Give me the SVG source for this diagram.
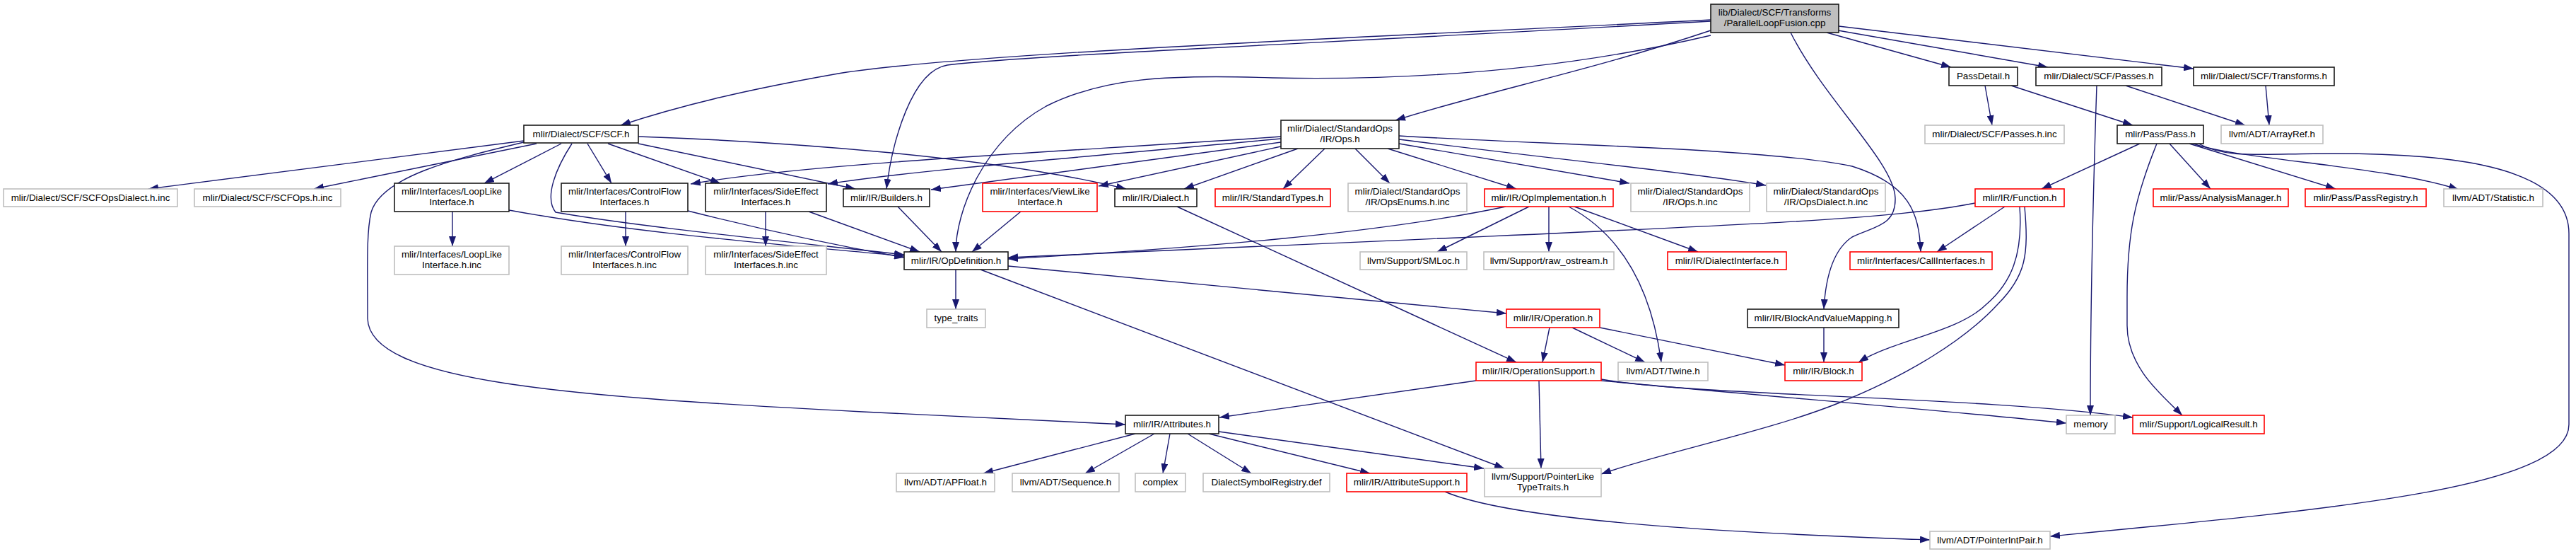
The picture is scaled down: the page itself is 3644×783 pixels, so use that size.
<svg xmlns="http://www.w3.org/2000/svg" width="3644" height="783" viewBox="0 0 3644 783">
<style>
rect{stroke-width:1.6}
.b{fill:#fff;stroke:#1a1a1a}
.r{fill:#fff;stroke:#ff0000}
.g{fill:#fff;stroke:#bfbfbf}
.root{fill:#bfbfbf;stroke:#1a1a1a}
text{font-family:"Liberation Sans",Arial,sans-serif;font-size:13.4px;fill:#000;text-anchor:middle}
#edges path{fill:none;stroke:#191970;stroke-width:1.4;marker-end:url(#ah)}
</style>
<defs>
<marker id="ah" markerUnits="userSpaceOnUse" viewBox="0 0 14 10" markerWidth="14" markerHeight="10" refX="14" refY="5" orient="auto">
<path d="M0,0 L14,5 L0,10 z" fill="#191970"/>
</marker>
</defs>
<rect width="3644" height="783" fill="#fff"/>
<g id="edges">
<path d="M2420,28 C2000,50 1350,75 1180,105 C1050,128 960,150 878,177"/>
<path d="M2420,30 C1900,60 1450,78 1340,92 C1290,100 1262,200 1254,267"/>
<path d="M2420,43 C2250,100 2100,130 1974,170"/>
<path d="M2420,50 C2250,90 2050,115 1800,110 C1650,105 1560,110 1480,150 C1390,200 1352,300 1352,356"/>
<path d="M2533,46 C2580,140 2680,230 2681,280 C2682,320 2650,320 2620,335 C2590,355 2582,400 2580,437"/>
<path d="M2584,46 L2760,95"/>
<path d="M2600,43 L2897,95"/>
<path d="M2601,37 L3103,97"/>
<path d="M2808,121 L2818,177"/>
<path d="M2845,121 L3017,177"/>
<path d="M3007,121 L3176,177"/>
<path d="M2966,121 C2960,300 2957,450 2957,587"/>
<path d="M3205,121 L3210,177"/>
<path d="M3027,203 L2888,267"/>
<path d="M3069,203 L3127,267"/>
<path d="M3097,203 L3304,267"/>
<path d="M3103,203 C3160,225 3380,235 3478,268"/>
<path d="M3110,203 C3150,225 3200,217 3300,217 C3450,217 3634,230 3634,330 L3634,600 C3634,690 3300,720 2900,758"/>
<path d="M3051,203 C3020,280 3009,330 3009,420 L3009,460 C3009,520 3060,560 3087,587"/>
<path d="M2836,292 L2740,356"/>
<path d="M2857,292 C2862,360 2845,400 2810,430 C2770,470 2680,480 2629,512"/>
<path d="M2864,292 C2870,360 2866,390 2826,430 C2780,480 2700,530 2600,570 C2500,610 2350,640 2265,670"/>
<path d="M2794,287 C2650,315 2400,320 1426,364"/>
<path d="M1812,193 C1500,215 1150,230 977,260"/>
<path d="M1812,196 C1500,225 1300,240 1171,260"/>
<path d="M1812,201 L1317,268"/>
<path d="M1812,207 L1554,263"/>
<path d="M1836,210 L1675,267"/>
<path d="M1874,210 L1815,267"/>
<path d="M1917,210 L1966,259"/>
<path d="M1963,210 L2145,267"/>
<path d="M1979,203 L2305,259"/>
<path d="M1979,197 C2200,225 2400,245 2498,262"/>
<path d="M1979,192 C2200,205 2500,210 2620,235 C2700,260 2715,300 2717,356"/>
<path d="M741,199 L210,267"/>
<path d="M759,203 L444,267"/>
<path d="M794,203 L685,259"/>
<path d="M831,203 L865,259"/>
<path d="M860,203 L1019,259"/>
<path d="M903,203 L1210,267"/>
<path d="M903,193 C1100,200 1400,220 1593,267"/>
<path d="M809,203 C785,240 770,280 786,300 C900,320 1100,340 1279,360"/>
<path d="M741,201 C640,225 540,250 525,300 C518,330 520,380 520,450 C522,540 800,560 1220,582 L1592,600"/>
<path d="M640,299 L640,348"/>
<path d="M720,297 C900,330 1100,345 1279,362"/>
<path d="M885,299 L885,348"/>
<path d="M973,298 C1100,330 1200,350 1279,364"/>
<path d="M1083,299 L1083,348"/>
<path d="M1144,299 L1301,356"/>
<path d="M1270,292 L1332,356"/>
<path d="M1444,299 L1375,356"/>
<path d="M1665,292 L2145,512"/>
<path d="M2130,292 C1950,330 1700,350 1426,366"/>
<path d="M2163,292 L2033,356"/>
<path d="M2191,292 L2191,356"/>
<path d="M2227,292 L2402,356"/>
<path d="M2219,292 C2290,330 2335,400 2350,512"/>
<path d="M1352,381 L1352,437"/>
<path d="M1426,376 L2131,443"/>
<path d="M1387,381 L2128,662"/>
<path d="M2192,463 L2182,512"/>
<path d="M2224,463 L2327,512"/>
<path d="M2263,463 L2525,516"/>
<path d="M2088,538 L1725,590"/>
<path d="M2177,538 L2180,662"/>
<path d="M2265,538 C2500,560 2750,580 2923,598"/>
<path d="M2265,536 C2400,560 2800,560 3017,590"/>
<path d="M1606,613 L1391,669"/>
<path d="M1633,613 L1535,669"/>
<path d="M1655,613 L1645,669"/>
<path d="M1680,613 L1770,669"/>
<path d="M1710,613 L1938,669"/>
<path d="M1724,610 L2099,662"/>
<path d="M2044,695 C2150,740 2500,755 2730,763"/>
<path d="M2580,463 L2580,512"/>
</g>
<g id="n_root"><rect class="root" x="2420" y="6" width="181" height="40"/><text x="2510.5" y="22">lib/Dialect/SCF/Transforms</text><text x="2510.5" y="37">/ParallelLoopFusion.cpp</text></g>
<g id="n_scf"><rect class="b" x="741" y="177" width="162" height="25"/><text x="822" y="193.5">mlir/Dialect/SCF/SCF.h</text></g>
<g id="n_stdops"><rect class="b" x="1812" y="170" width="167" height="40"/><text x="1895.5" y="186">mlir/Dialect/StandardOps</text><text x="1895.5" y="201">/IR/Ops.h</text></g>
<g id="n_passdetail"><rect class="b" x="2757" y="95" width="97" height="26"/><text x="2805.5" y="112">PassDetail.h</text></g>
<g id="n_scfpasses"><rect class="b" x="2880" y="95" width="178" height="26"/><text x="2969" y="112">mlir/Dialect/SCF/Passes.h</text></g>
<g id="n_scftransforms"><rect class="b" x="3103" y="95" width="199" height="26"/><text x="3202.5" y="112">mlir/Dialect/SCF/Transforms.h</text></g>
<g id="n_passesinc"><rect class="g" x="2723" y="177" width="197" height="26"/><text x="2821.5" y="194">mlir/Dialect/SCF/Passes.h.inc</text></g>
<g id="n_pass"><rect class="b" x="2995" y="177" width="122" height="26"/><text x="3056" y="194">mlir/Pass/Pass.h</text></g>
<g id="n_arrayref"><rect class="g" x="3142" y="177" width="144" height="26"/><text x="3214" y="194">llvm/ADT/ArrayRef.h</text></g>
<g id="n_scfopsdialect"><rect class="g" x="5" y="267" width="246" height="25"/><text x="128" y="283.5">mlir/Dialect/SCF/SCFOpsDialect.h.inc</text></g>
<g id="n_scfops"><rect class="g" x="275" y="267" width="207" height="25"/><text x="378.5" y="283.5">mlir/Dialect/SCF/SCFOps.h.inc</text></g>
<g id="n_looplike"><rect class="b" x="558" y="259" width="162" height="40"/><text x="639" y="275">mlir/Interfaces/LoopLike</text><text x="639" y="290">Interface.h</text></g>
<g id="n_controlflow"><rect class="b" x="794" y="259" width="179" height="40"/><text x="883.5" y="275">mlir/Interfaces/ControlFlow</text><text x="883.5" y="290">Interfaces.h</text></g>
<g id="n_sideeffect"><rect class="b" x="998" y="259" width="171" height="40"/><text x="1083.5" y="275">mlir/Interfaces/SideEffect</text><text x="1083.5" y="290">Interfaces.h</text></g>
<g id="n_builders"><rect class="b" x="1193" y="267" width="122" height="25"/><text x="1254" y="283.5">mlir/IR/Builders.h</text></g>
<g id="n_viewlike"><rect class="r" x="1390" y="259" width="162" height="40"/><text x="1471" y="275">mlir/Interfaces/ViewLike</text><text x="1471" y="290">Interface.h</text></g>
<g id="n_dialect"><rect class="b" x="1577" y="267" width="116" height="25"/><text x="1635" y="283.5">mlir/IR/Dialect.h</text></g>
<g id="n_stdtypes"><rect class="r" x="1719" y="267" width="163" height="25"/><text x="1800.5" y="283.5">mlir/IR/StandardTypes.h</text></g>
<g id="n_opsenums"><rect class="g" x="1907" y="259" width="168" height="40"/><text x="1991" y="275">mlir/Dialect/StandardOps</text><text x="1991" y="290">/IR/OpsEnums.h.inc</text></g>
<g id="n_opimpl"><rect class="r" x="2100" y="267" width="182" height="25"/><text x="2191" y="283.5">mlir/IR/OpImplementation.h</text></g>
<g id="n_opsinc"><rect class="g" x="2307" y="259" width="168" height="40"/><text x="2391" y="275">mlir/Dialect/StandardOps</text><text x="2391" y="290">/IR/Ops.h.inc</text></g>
<g id="n_opsdialectinc"><rect class="g" x="2499" y="259" width="168" height="40"/><text x="2583" y="275">mlir/Dialect/StandardOps</text><text x="2583" y="290">/IR/OpsDialect.h.inc</text></g>
<g id="n_function"><rect class="r" x="2794" y="267" width="126" height="25"/><text x="2857" y="283.5">mlir/IR/Function.h</text></g>
<g id="n_analysis"><rect class="r" x="3046" y="267" width="191" height="25"/><text x="3141.5" y="283.5">mlir/Pass/AnalysisManager.h</text></g>
<g id="n_passregistry"><rect class="r" x="3261" y="267" width="171" height="25"/><text x="3346.5" y="283.5">mlir/Pass/PassRegistry.h</text></g>
<g id="n_statistic"><rect class="g" x="3457" y="267" width="140" height="25"/><text x="3527" y="283.5">llvm/ADT/Statistic.h</text></g>
<g id="n_looplikeinc"><rect class="g" x="558" y="348" width="162" height="40"/><text x="639" y="364">mlir/Interfaces/LoopLike</text><text x="639" y="379">Interface.h.inc</text></g>
<g id="n_controlflowinc"><rect class="g" x="794" y="348" width="179" height="40"/><text x="883.5" y="364">mlir/Interfaces/ControlFlow</text><text x="883.5" y="379">Interfaces.h.inc</text></g>
<g id="n_sideeffectinc"><rect class="g" x="998" y="348" width="171" height="40"/><text x="1083.5" y="364">mlir/Interfaces/SideEffect</text><text x="1083.5" y="379">Interfaces.h.inc</text></g>
<g id="n_opdef"><rect class="b" x="1279" y="356" width="147" height="25"/><text x="1352.5" y="372.5">mlir/IR/OpDefinition.h</text></g>
<g id="n_smloc"><rect class="g" x="1924" y="356" width="151" height="25"/><text x="1999.5" y="372.5">llvm/Support/SMLoc.h</text></g>
<g id="n_rawostream"><rect class="g" x="2099" y="356" width="184" height="25"/><text x="2191" y="372.5">llvm/Support/raw_ostream.h</text></g>
<g id="n_dialectinterface"><rect class="r" x="2359" y="356" width="168" height="25"/><text x="2443" y="372.5">mlir/IR/DialectInterface.h</text></g>
<g id="n_callinterfaces"><rect class="r" x="2617" y="356" width="201" height="25"/><text x="2717.5" y="372.5">mlir/Interfaces/CallInterfaces.h</text></g>
<g id="n_typetraits"><rect class="g" x="1311" y="437" width="83" height="26"/><text x="1352.5" y="454">type_traits</text></g>
<g id="n_operation"><rect class="r" x="2131" y="437" width="132" height="26"/><text x="2197" y="454">mlir/IR/Operation.h</text></g>
<g id="n_bvm"><rect class="b" x="2472" y="437" width="214" height="26"/><text x="2579" y="454">mlir/IR/BlockAndValueMapping.h</text></g>
<g id="n_opsupport"><rect class="r" x="2088" y="512" width="177" height="26"/><text x="2176.5" y="529">mlir/IR/OperationSupport.h</text></g>
<g id="n_twine"><rect class="g" x="2289" y="512" width="127" height="26"/><text x="2352.5" y="529">llvm/ADT/Twine.h</text></g>
<g id="n_block"><rect class="r" x="2525" y="512" width="109" height="26"/><text x="2579.5" y="529">mlir/IR/Block.h</text></g>
<g id="n_attributes"><rect class="b" x="1592" y="587" width="132" height="26"/><text x="1658" y="604">mlir/IR/Attributes.h</text></g>
<g id="n_memory"><rect class="g" x="2923" y="587" width="69" height="26"/><text x="2957.5" y="604">memory</text></g>
<g id="n_logicalresult"><rect class="r" x="3017" y="587" width="186" height="26"/><text x="3110" y="604">mlir/Support/LogicalResult.h</text></g>
<g id="n_apfloat"><rect class="g" x="1268" y="669" width="139" height="26"/><text x="1337.5" y="686">llvm/ADT/APFloat.h</text></g>
<g id="n_sequence"><rect class="g" x="1432" y="669" width="151" height="26"/><text x="1507.5" y="686">llvm/ADT/Sequence.h</text></g>
<g id="n_complex"><rect class="g" x="1606" y="669" width="71" height="26"/><text x="1641.5" y="686">complex</text></g>
<g id="n_dsr"><rect class="g" x="1702" y="669" width="179" height="26"/><text x="1791.5" y="686">DialectSymbolRegistry.def</text></g>
<g id="n_attrsupport"><rect class="r" x="1905" y="669" width="170" height="26"/><text x="1990" y="686">mlir/IR/AttributeSupport.h</text></g>
<g id="n_pointerlike"><rect class="g" x="2100" y="662" width="165" height="40"/><text x="2182.5" y="678">llvm/Support/PointerLike</text><text x="2182.5" y="693">TypeTraits.h</text></g>
<g id="n_pointerintpair"><rect class="g" x="2730" y="751" width="170" height="25"/><text x="2815" y="767.5">llvm/ADT/PointerIntPair.h</text></g>
</svg>
